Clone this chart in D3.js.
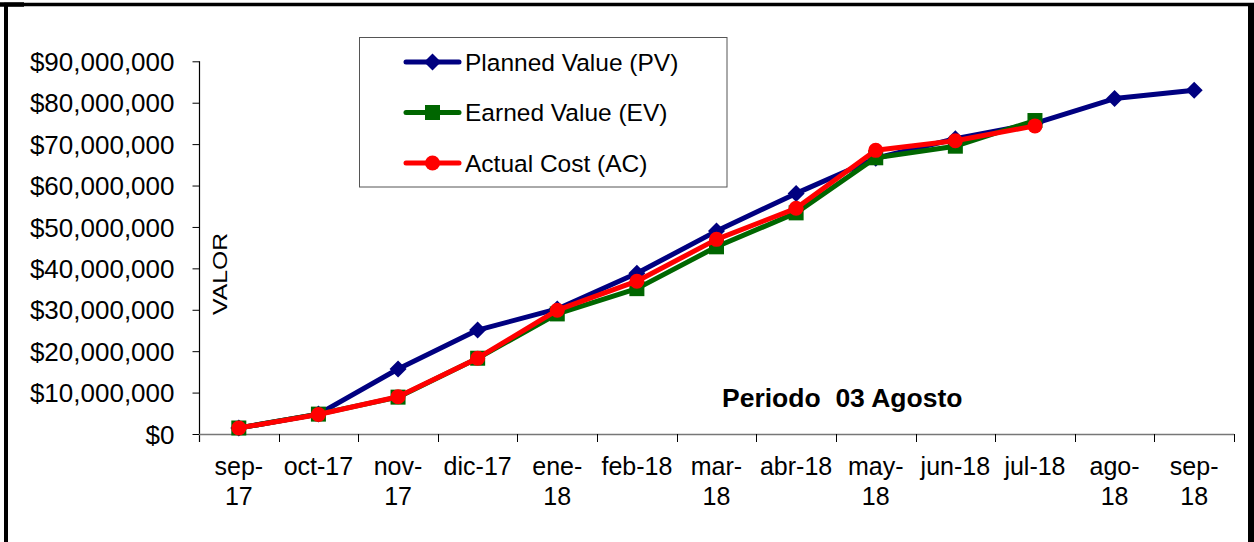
<!DOCTYPE html>
<html>
<head>
<meta charset="utf-8">
<script src="https://cdn.jsdelivr.net/npm/d3@7"></script>
<style>
  html, body { margin: 0; padding: 0; background: #fff; }
  svg { display: block; }
  text { font-family: "Liberation Sans", Arial, sans-serif; fill: #000; }
</style>
</head>
<body>
<svg id="chart" width="1254" height="542"></svg>
<script>
// ---- data (values in millions of $) ----
const categories = ["sep-17","oct-17","nov-17","dic-17","ene-18","feb-18","mar-18","abr-18","may-18","jun-18","jul-18","ago-18","sep-18"];
const tickLabels = ["sep-\n17","oct-17","nov-\n17","dic-17","ene-\n18","feb-18","mar-\n18","abr-18","may-\n18","jun-18","jul-18","ago-\n18","sep-\n18"];
const plannedValue = [1.45, 4.8, 15.7, 25.1, 30.2, 38.8, 49.0, 58.1, 66.6, 71.3, 75.0, 81.0, 83.0];
const earnedValue  = [1.45, 4.8, 8.9, 18.3, 29.0, 35.1, 45.2, 53.4, 66.7, 69.5, 75.7];
const actualCost   = [1.45, 4.7, 9.0, 18.3, 29.9, 36.9, 47.0, 54.5, 68.5, 70.8, 74.4];
const yTicks = [0, 10, 20, 30, 40, 50, 60, 70, 80, 90];
const seriesNames = ["Planned Value (PV)", "Earned Value (EV)", "Actual Cost (AC)"];
const annotation = "Periodo  03 Agosto";
const axisTitle = "VALOR";

(function () {
const svg = d3.select("#chart");
const W = 1254, H = 542;
const pLeft = 199, pRight = 1234, pTop = 61.3, pBottom = 434;

// frame
svg.append("rect").attr("x",0).attr("y",0).attr("width",W).attr("height",H).attr("fill","#fff");
svg.append("line").attr("x1",4).attr("x2",W).attr("y1",4.5).attr("y2",4.5).attr("stroke","#000").attr("stroke-width",3.5);
svg.append("line").attr("x1",0).attr("x2",24).attr("y1",4.5).attr("y2",4.5).attr("stroke","#000").attr("stroke-width",4.5);
svg.append("line").attr("x1",6).attr("x2",6).attr("y1",3).attr("y2",H).attr("stroke","#000").attr("stroke-width",4);
svg.append("line").attr("x1",1251).attr("x2",1251).attr("y1",3).attr("y2",H).attr("stroke","#000").attr("stroke-width",6);

const x = d3.scaleBand().domain(categories).range([pLeft, pRight]).padding(0);
const cx = c => x(c) + x.bandwidth()/2;
const y = d3.scaleLinear().domain([0, 90]).range([pBottom, pTop]);

// y axis
const yAxis = d3.axisLeft(y).tickValues(yTicks).tickSize(7).tickPadding(18)
  .tickFormat(d => "$" + d3.format(",")(d * 1000000));
const gy = svg.append("g").attr("transform", `translate(${pLeft+0.5},0)`).call(yAxis);
gy.select(".domain").remove();
gy.selectAll(".tick line").attr("stroke","#000").attr("stroke-width",1);
gy.selectAll(".tick text").attr("font-size",26).attr("font-family","Liberation Sans, Arial, sans-serif").attr("fill","#000").attr("dy","0.35em");
svg.append("line").attr("x1",pLeft+0.5).attr("x2",pLeft+0.5).attr("y1",pTop).attr("y2",pBottom+8).attr("stroke","#000").attr("stroke-width",1.2);

// x axis
svg.append("line").attr("x1",pLeft).attr("x2",pRight).attr("y1",pBottom+0.5).attr("y2",pBottom+0.5).attr("stroke","#777").attr("stroke-width",1.5);
const edges = categories.map(c => x(c)).concat([pRight]);
svg.selectAll(".xtick").data(edges.slice(1)).join("line")
  .attr("x1", d => Math.round(d)+0.5).attr("x2", d => Math.round(d)+0.5)
  .attr("y1", pBottom).attr("y2", pBottom+8).attr("stroke","#000").attr("stroke-width",1);

const xl = svg.append("g");
categories.forEach((c, i) => {
  const lines = tickLabels[i].split("\n");
  const t = xl.append("text").attr("text-anchor","middle").attr("font-size",25);
  lines.forEach((ln, j) => {
    t.append("tspan").attr("x", cx(c)).attr("y", 475 + j*30).text(ln);
  });
});

// axis title
svg.append("text").attr("transform","translate(227,274) rotate(-90)")
  .attr("text-anchor","middle").attr("font-size",20).attr("textLength",82).attr("lengthAdjust","spacingAndGlyphs").text(axisTitle);

// series
const colors = ["#000080", "#006600", "#ff0000"];
const series = [plannedValue, earnedValue, actualCost];
const line = d3.line().x((d,i) => cx(categories[i])).y(d => y(d));

function drawMarker(g, k, px, py) {
  if (k === 0) {
    g.append("path").attr("d", `M${px},${py-8.5}L${px+8.5},${py}L${px},${py+8.5}L${px-8.5},${py}Z`).attr("fill", colors[0]);
  } else if (k === 1) {
    g.append("rect").attr("x", px-7.5).attr("y", py-7.5).attr("width",15).attr("height",15).attr("fill", colors[1]);
  } else {
    g.append("circle").attr("cx", px).attr("cy", py).attr("r", 7.5).attr("fill", colors[2]);
  }
}

series.forEach((vals, k) => {
  const g = svg.append("g");
  g.append("path").datum(vals).attr("d", line).attr("fill","none")
    .attr("stroke", colors[k]).attr("stroke-width",5).attr("stroke-linejoin","round");
  vals.forEach((v, i) => drawMarker(g, k, cx(categories[i]), y(v)));
});

// legend
const lg = svg.append("g");
lg.append("rect").attr("x",359.5).attr("y",37.5).attr("width",367.5).attr("height",149.5)
  .attr("fill","#fff").attr("stroke","#555").attr("stroke-width",1);
const rowsY = [62, 112.5, 163];
seriesNames.forEach((name, k) => {
  lg.append("line").attr("x1",406).attr("x2",459).attr("y1",rowsY[k]).attr("y2",rowsY[k])
    .attr("stroke",colors[k]).attr("stroke-width",5).attr("stroke-linecap","round");
  drawMarker(lg, k, 432.5, rowsY[k]);
  lg.append("text").attr("x",465).attr("y",rowsY[k]).attr("dy","0.35em").attr("font-size",24.5).text(name);
});

// annotation
svg.append("text").attr("x",722).attr("y",407).attr("font-size",26.5).attr("font-weight","bold")
  .style("white-space","pre").text(annotation);
})();
</script>
</body>
</html>
